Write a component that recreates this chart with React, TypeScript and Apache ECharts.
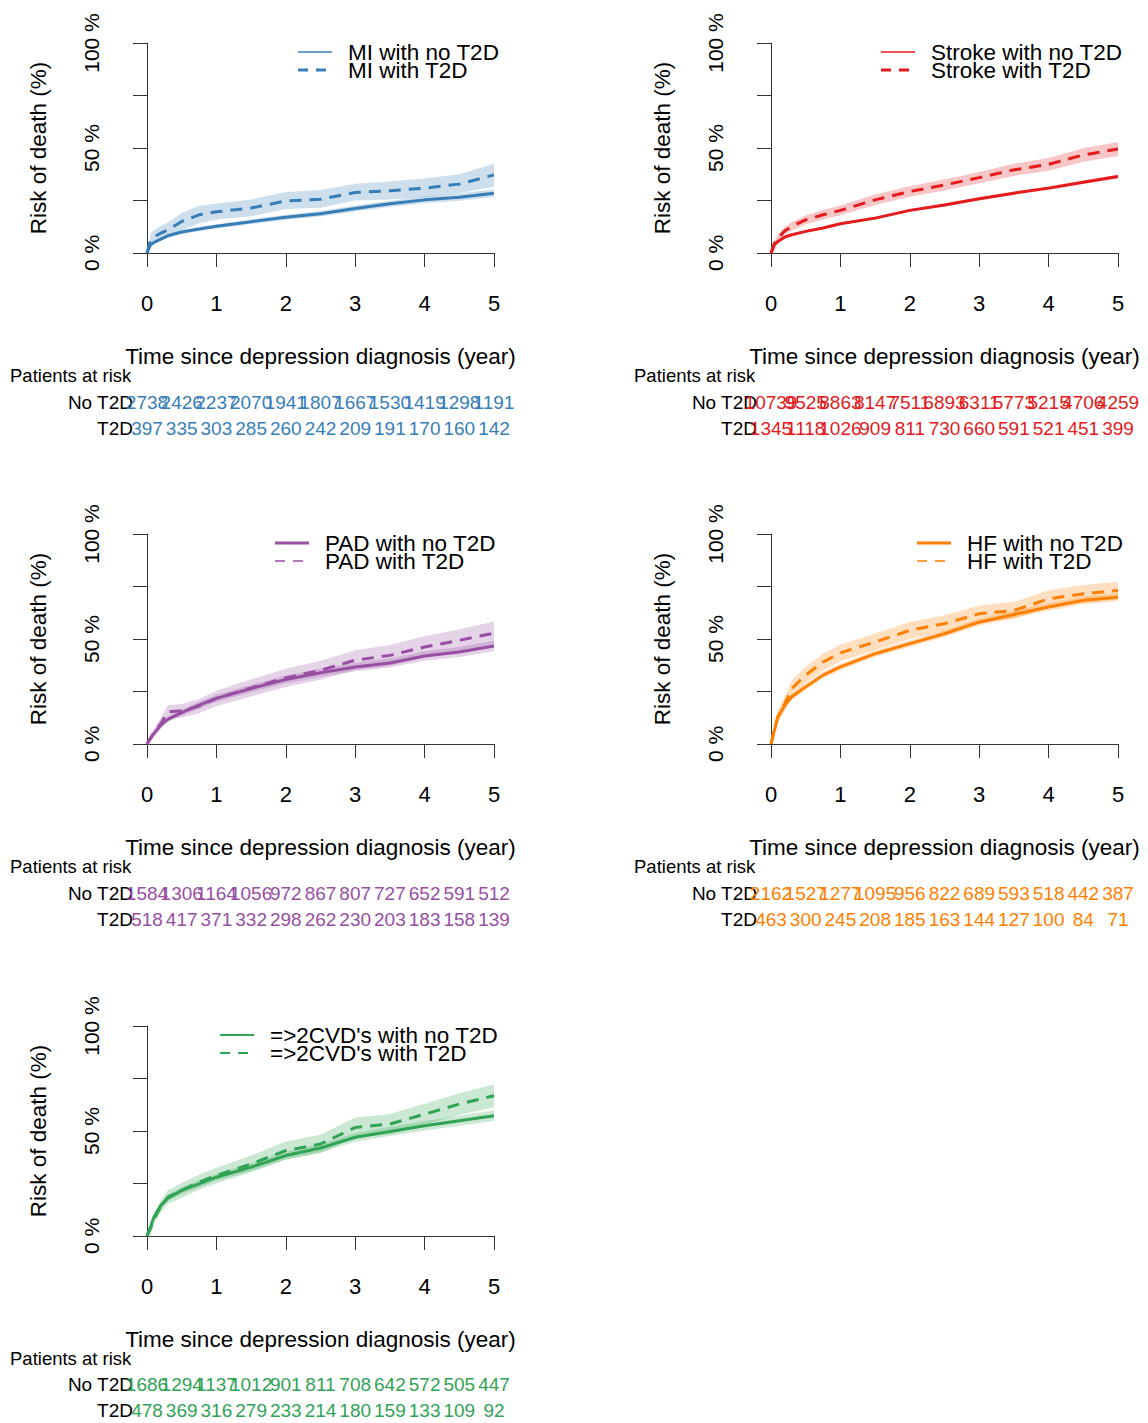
import React, { useEffect, useRef } from "react";
import * as echarts from "echarts";

const FONT = '"Liberation Sans", Arial, Helvetica, sans-serif';

// time grid (years) at which the curves were read
const TIMES = [0, 0.05, 0.1, 0.2, 0.3, 0.5, 0.75, 1, 1.5, 2, 2.5, 3, 3.5, 4, 4.5, 5];
// at-risk time points
const RISK_TIMES = [0, 0.5, 1, 1.5, 2, 2.5, 3, 3.5, 4, 4.5, 5];
const X_LABEL = "Time since depression diagnosis (year)";
const Y_LABEL = "Risk of death (%)";

// MI
const MI_NO = [0, 4, 5, 6.6, 8.2, 10, 11.4, 12.7, 14.9, 17, 18.7, 21.2, 23.4, 25.3, 26.6, 28.5];
const MI_NO_LO = [0, 3.3, 4.3, 5.8, 7.3, 9.1, 10.4, 11.7, 13.8, 15.8, 17.4, 19.8, 21.9, 23.7, 24.9, 26.7];
const MI_NO_HI = [0, 4.7, 5.8, 7.4, 9.1, 10.9, 12.4, 13.7, 16.0, 18.2, 20.0, 22.6, 24.9, 26.9, 28.3, 30.3];
const MI_T2D = [0, 6, 7.6, 9.5, 11, 15, 18.2, 19.6, 21.4, 24.8, 25.6, 28.8, 29.6, 30.9, 32.8, 37.2];
const MI_T2D_LO = [0, 3, 4.5, 6, 7.5, 11, 14, 16, 17.5, 21, 21.5, 25, 25.5, 26.5, 28.5, 31.6];
const MI_T2D_HI = [0, 9, 11, 13, 14.5, 19, 22.5, 23.5, 25.5, 29, 30, 33, 34, 35.5, 37.5, 42.5];
const MI_RISK_NO = [2738, 2426, 2237, 2070, 1941, 1807, 1667, 1530, 1419, 1298, 1191];
const MI_RISK_T2D = [397, 335, 303, 285, 260, 242, 209, 191, 170, 160, 142];

// Stroke
const ST_NO = [0, 4, 5.5, 7.6, 8.7, 10.3, 11.9, 13.9, 16.6, 20.3, 22.9, 25.8, 28.5, 30.9, 33.7, 36.4];
const ST_NO_LO = [0, 3.6, 5.1, 7.1, 8.2, 9.8, 11.3, 13.3, 16.0, 19.6, 22.2, 25.0, 27.7, 30.0, 32.8, 35.4];
const ST_NO_HI = [0, 4.4, 5.9, 8.1, 9.2, 10.8, 12.5, 14.5, 17.2, 21.0, 23.6, 26.6, 29.3, 31.8, 34.6, 37.4];
const ST_T2D = [0, 4.7, 7.1, 10.6, 12.7, 15.8, 18.2, 20.3, 25.3, 29.3, 32.4, 35.9, 39.6, 42.2, 46.7, 49.5];
const ST_T2D_LO = [0, 3.5, 5.6, 8.8, 10.7, 13.6, 15.9, 18.0, 22.8, 26.8, 29.8, 33.2, 36.7, 39.2, 43.5, 46.2];
const ST_T2D_HI = [0, 5.9, 8.6, 12.4, 14.7, 18.0, 20.5, 22.6, 27.8, 31.8, 35.0, 38.6, 42.5, 45.2, 49.9, 52.8];
const ST_RISK_NO = [10739, 9525, 8863, 8147, 7511, 6893, 6311, 5773, 5215, 4706, 4259];
const ST_RISK_T2D = [1345, 1118, 1026, 909, 811, 730, 660, 591, 521, 451, 399];

// PAD
const PAD_NO = [0, 2.7, 5, 9, 11.7, 14.9, 18.5, 21.7, 26.4, 30.7, 33.9, 36.7, 38.6, 41.9, 43.8, 46.7];
const PAD_NO_LO = [0, 2.0, 4.0, 7.8, 10.3, 13.4, 16.9, 20.0, 24.6, 28.8, 31.9, 34.6, 36.4, 39.6, 41.4, 44.2];
const PAD_NO_HI = [0, 3.4, 6.0, 10.2, 13.1, 16.4, 20.1, 23.4, 28.2, 32.6, 35.9, 38.8, 40.8, 44.2, 46.2, 49.2];
const PAD_T2D = [0, 2.7, 5.4, 9.8, 15.3, 15.8, 18, 21.7, 26.7, 31.5, 35.1, 39.9, 42.2, 46.2, 49.4, 52.8];
const PAD_T2D_LO = [0, 1.3, 3.4, 7.2, 12.1, 12.6, 14.6, 18.0, 22.6, 27.2, 30.6, 35.2, 37.3, 41.1, 44.1, 47.3];
const PAD_T2D_HI = [0, 4.1, 7.4, 12.4, 18.5, 19.0, 21.4, 25.4, 30.8, 35.8, 39.6, 44.6, 47.1, 51.3, 54.7, 58.3];
const PAD_RISK_NO = [1584, 1306, 1164, 1056, 972, 867, 807, 727, 652, 591, 512];
const PAD_RISK_T2D = [518, 417, 371, 332, 298, 262, 230, 203, 183, 158, 139];

// HF
const HF_NO = [0, 6.6, 13, 18.5, 22.5, 27.2, 32.8, 36.7, 43, 47.8, 52.5, 58, 61.7, 65.2, 68.4, 69.9];
const HF_NO_LO = [0, 5.6, 11.8, 17.2, 21.1, 25.8, 31.3, 35.2, 41.5, 46.2, 50.9, 56.3, 60.0, 63.4, 66.6, 68.0];
const HF_NO_HI = [0, 7.6, 14.2, 19.8, 23.9, 28.6, 34.3, 38.2, 44.5, 49.4, 54.1, 59.7, 63.4, 67.0, 70.2, 71.8];
const HF_T2D = [0, 7.4, 13, 19.3, 26.4, 32.8, 39, 43.4, 48.6, 54.1, 57.3, 62, 63.6, 69.1, 71.5, 73.1];
const HF_T2D_LO = [0, 5.0, 10.0, 15.8, 22.4, 28.8, 35.0, 39.4, 44.6, 50.1, 53.3, 58.0, 59.5, 65.0, 67.3, 68.9];
const HF_T2D_HI = [0, 9.8, 16.0, 22.8, 30.4, 36.8, 43.0, 47.4, 52.6, 58.1, 61.3, 66.0, 67.7, 73.2, 75.7, 77.3];
const HF_RISK_NO = [2162, 1527, 1277, 1095, 956, 822, 689, 593, 518, 442, 387];
const HF_RISK_T2D = [463, 300, 245, 208, 185, 163, 144, 127, 100, 84, 71];

// >=2 CVDs
const CVD_NO = [0, 4.3, 9, 14.6, 18, 21.7, 24.8, 28, 32.8, 38.3, 41.9, 47, 49.8, 52.5, 54.9, 57.3];
const CVD_NO_LO = [0, 3.4, 7.8, 13.2, 16.5, 20.1, 23.1, 26.3, 31.0, 36.4, 39.9, 44.9, 47.6, 50.2, 52.5, 54.8];
const CVD_NO_HI = [0, 5.2, 10.2, 16.0, 19.5, 23.3, 26.5, 29.7, 34.6, 40.2, 43.9, 49.1, 52.0, 54.8, 57.3, 59.8];
const CVD_T2D = [0, 3.5, 7.9, 14.2, 18.5, 21.7, 25.6, 28.8, 34.3, 40.7, 43.8, 51.7, 53.3, 58, 62.8, 66.8];
const CVD_T2D_LO = [0, 1.8, 5.5, 11.2, 15.2, 18.2, 22.0, 25.1, 30.3, 36.4, 39.4, 47.0, 48.5, 53.0, 57.6, 61.3];
const CVD_T2D_HI = [0, 5.2, 10.3, 17.2, 21.8, 25.2, 29.2, 32.5, 38.3, 45.0, 48.2, 56.4, 58.1, 63.0, 68.0, 72.3];
const CVD_RISK_NO = [1686, 1294, 1137, 1012, 901, 811, 708, 642, 572, 505, 447];
const CVD_RISK_T2D = [478, 369, 316, 279, 233, 214, 180, 159, 133, 109, 92];

const ROW_LABELS = ["T2D", "No T2D"];

const PANELS = [
  { name: "MI", color: "#377EB8", rgb: "55,126,184", ox: 0, oy: 0, legendX: 348, legendW: [1.5, 3],
    no: MI_NO, noLo: MI_NO_LO, noHi: MI_NO_HI, t2d: MI_T2D, t2dLo: MI_T2D_LO, t2dHi: MI_T2D_HI,
    riskNo: MI_RISK_NO, riskT2d: MI_RISK_T2D },
  { name: "Stroke", color: "#E41A1C", rgb: "228,26,28", ox: 624, oy: 0, legendX: 307, legendW: [1.5, 3],
    no: ST_NO, noLo: ST_NO_LO, noHi: ST_NO_HI, t2d: ST_T2D, t2dLo: ST_T2D_LO, t2dHi: ST_T2D_HI,
    riskNo: ST_RISK_NO, riskT2d: ST_RISK_T2D },
  { name: "PAD", color: "#984EA3", rgb: "152,78,163", ox: 0, oy: 491, legendX: 325, legendW: [3, 1.5],
    no: PAD_NO, noLo: PAD_NO_LO, noHi: PAD_NO_HI, t2d: PAD_T2D, t2dLo: PAD_T2D_LO, t2dHi: PAD_T2D_HI,
    riskNo: PAD_RISK_NO, riskT2d: PAD_RISK_T2D },
  { name: "HF", color: "#FF7F00", rgb: "255,127,0", ox: 624, oy: 491, legendX: 343, legendW: [3, 1.5],
    no: HF_NO, noLo: HF_NO_LO, noHi: HF_NO_HI, t2d: HF_T2D, t2dLo: HF_T2D_LO, t2dHi: HF_T2D_HI,
    riskNo: HF_RISK_NO, riskT2d: HF_RISK_T2D },
  { name: "=>2CVD's", color: "#31A354", rgb: "49,163,84", ox: 0, oy: 983, legendX: 270, legendW: [2, 2],
    no: CVD_NO, noLo: CVD_NO_LO, noHi: CVD_NO_HI, t2d: CVD_T2D, t2dLo: CVD_T2D_LO, t2dHi: CVD_T2D_HI,
    riskNo: CVD_RISK_NO, riskT2d: CVD_RISK_T2D },
];

const zip = (xs: number[], ys: number[]) => xs.map((x, i) => [x, ys[i]]);

function buildOption() {
  const grid: any[] = [];
  const xAxis: any[] = [];
  const yAxis: any[] = [];
  const series: any[] = [];
  const graphic: any[] = [];
  const axisColor = "#333";

  PANELS.forEach((p) => {
    const gi = grid.length;
    grid.push({ left: 147 + p.ox, top: 43 + p.oy, width: 347, height: 210, containLabel: false });
    xAxis.push({
      type: "value", gridIndex: gi, min: 0, max: 5, interval: 1, offset: 9,
      axisLine: { show: true, lineStyle: { color: axisColor, width: 1 } },
      axisTick: { show: true, length: 14, lineStyle: { color: axisColor } },
      splitLine: { show: false },
      axisLabel: { fontSize: 22, color: "#000", fontFamily: FONT, margin: 30 },
      name: X_LABEL, nameLocation: "middle", nameGap: 83,
      nameTextStyle: { fontSize: 22.5, color: "#000", fontFamily: FONT },
    });
    yAxis.push({
      type: "value", gridIndex: gi, min: 0, max: 100, interval: 25, offset: 14,
      axisLine: { show: true, lineStyle: { color: axisColor, width: 1 } },
      axisTick: { show: true, length: 14, lineStyle: { color: axisColor } },
      splitLine: { show: false },
      axisLabel: {
        rotate: 90, fontSize: 21, color: "#000", fontFamily: FONT, margin: 31,
        formatter: (v: number) => (v % 50 === 0 ? `${v} %` : ""),
      },
      name: Y_LABEL, nameLocation: "middle", nameGap: 83, nameRotate: 90,
      nameTextStyle: { fontSize: 22.5, color: "#000", fontFamily: FONT },
    });

    const band = (id: string, lo: number[], hi: number[]) => {
      series.push({
        type: "custom", name: `${p.name} ${id} band`, xAxisIndex: gi, yAxisIndex: gi,
        data: TIMES.map((t, i) => [t, lo[i], hi[i]]), silent: true, z: 1,
        encode: { x: 0, y: [1, 2] },
        renderItem: (params: any, api: any) => {
          if (params.dataIndex !== 0) return null;
          const up = TIMES.map((t, i) => api.coord([t, hi[i]]));
          const dn = TIMES.map((t, i) => api.coord([t, lo[i]])).reverse();
          return {
            type: "polygon",
            shape: { points: up.concat(dn) },
            style: { fill: `rgba(${p.rgb},0.25)` },
          };
        },
      });
    };
    band("no", p.noLo, p.noHi);
    band("t2d", p.t2dLo, p.t2dHi);

    const nameNo = `${p.name} with no T2D`;
    const nameT2d = `${p.name} with T2D`;
    series.push({
      type: "line", name: nameNo, xAxisIndex: gi, yAxisIndex: gi, data: zip(TIMES, p.no),
      symbol: "none", color: p.color, lineStyle: { color: p.color, width: 3, type: "solid" }, z: 3,
    });
    series.push({
      type: "line", name: nameT2d, xAxisIndex: gi, yAxisIndex: gi, data: zip(TIMES, p.t2d),
      symbol: "none", color: p.color, lineStyle: { color: p.color, width: 3, type: [12, 8] }, z: 3,
    });

    // legend (line samples + texts)
    const lx = p.legendX + p.ox;
    const ly1 = 52 + p.oy;
    const ly2 = 70 + p.oy;
    graphic.push({
      type: "line", shape: { x1: lx - 50, y1: ly1, x2: lx - 16, y2: ly1 },
      style: { stroke: p.color, lineWidth: p.legendW[0] },
    });
    graphic.push({
      type: "line", shape: { x1: lx - 50, y1: ly2, x2: lx - 16, y2: ly2 },
      style: { stroke: p.color, lineWidth: p.legendW[1], lineDash: [10, 8] },
    });
    graphic.push({
      type: "text", x: lx, y: ly1,
      style: { text: nameNo, fontSize: 22.5, fill: "#000", fontFamily: FONT, textVerticalAlign: "middle", verticalAlign: "middle" },
    });
    graphic.push({
      type: "text", x: lx, y: ly2,
      style: { text: nameT2d, fontSize: 22.5, fill: "#000", fontFamily: FONT, textVerticalAlign: "middle", verticalAlign: "middle" },
    });

    // at-risk table grid
    const ti = grid.length;
    grid.push({ left: 147 + p.ox, top: 389 + p.oy, width: 347, height: 52, containLabel: false });
    xAxis.push({ type: "value", gridIndex: ti, min: 0, max: 5, show: false });
    yAxis.push({
      type: "category", gridIndex: ti, data: ROW_LABELS,
      axisLine: { show: false }, axisTick: { show: false }, splitLine: { show: false },
      axisLabel: { fontSize: 19, color: "#000", fontFamily: FONT, margin: 14 },
    });
    const riskSeries = (row: string, vals: number[]) => ({
      type: "scatter", name: `${p.name} at risk ${row}`, xAxisIndex: ti, yAxisIndex: ti,
      data: RISK_TIMES.map((t, i) => [t, row, vals[i]]), symbolSize: 0, silent: true,
      itemStyle: { opacity: 1, color: p.color },
      label: {
        show: true, position: "inside", color: p.color, fontSize: 19, fontFamily: FONT,
        textBorderWidth: 0, opacity: 1,
        formatter: (d: any) => String(d.value[2]),
      },
    });
    series.push(riskSeries("No T2D", p.riskNo));
    series.push(riskSeries("T2D", p.riskT2d));

    graphic.push({
      type: "text", x: 10 + p.ox, y: 375 + p.oy,
      style: { text: "Patients at risk", fontSize: 18.5, fill: "#000", fontFamily: FONT, verticalAlign: "middle", textVerticalAlign: "middle" },
    });
  });

  return { animation: false, backgroundColor: "#fff", grid, xAxis, yAxis, series, graphic };
}

export default function App() {
  const ref = useRef<HTMLDivElement>(null);
  useEffect(() => {
    document.body.style.margin = "0";
    const chart = echarts.init(ref.current!, null, { renderer: "svg" });
    chart.setOption(buildOption() as any);
    return () => chart.dispose();
  }, []);
  return <div ref={ref} style={{ width: 1148, height: 1423 }} />;
}
